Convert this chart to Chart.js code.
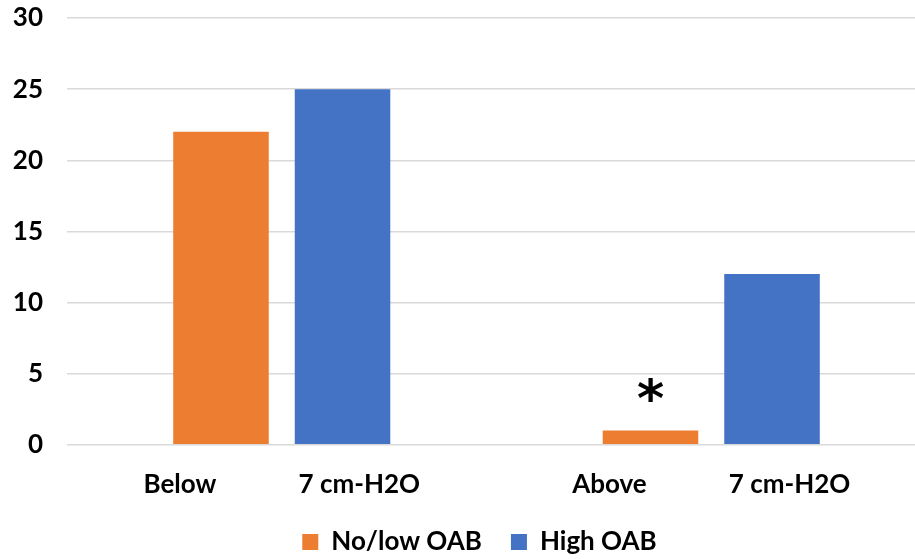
<!DOCTYPE html>
<html>
<head>
<meta charset="utf-8">
<script src="https://cdn.jsdelivr.net/npm/chart.js@4.4.1/dist/chart.umd.min.js"></script>
<style>
  html, body { margin: 0; padding: 0; background: #fff; overflow: hidden; }
  #wrap { width: 915px; height: 559px; position: relative; }
</style>
</head>
<body>
<div id="wrap"><canvas id="c" width="915" height="559"></canvas></div>
<script>
// Category labels: leading word and pressure threshold, shown on one line
const categoryLead = ["Below", "Above"];
const categoryTail = ["7 cm-H2O", "7 cm-H2O"];
const categories = categoryLead.map((w, i) => w + "             " + categoryTail[i]);

// Series values
const seriesNames = ["No/low OAB", "High OAB"];
const noLowOAB = [22, 1];
const highOAB = [25, 12];

// Y axis range and tick step
const yTicks = [0, 5, 10, 15, 20, 25, 30];

// Significance marker placed above a bar
const markerText = "*";
const markerDataset = 0;
const markerIndex = 1;

const FONT = "Lato, 'Open Sans', sans-serif";

// Plot area runs slightly past the right edge of the canvas
const PLOT_RIGHT = 926;
const LEGEND_SHIFT = 22;

const markerPlugin = {
  id: "sigMarker",
  afterDatasetsDraw(chart) {
    const meta = chart.getDatasetMeta(markerDataset);
    const bar = meta.data[markerIndex];
    if (!bar) return;
    const ctx = chart.ctx;
    ctx.save();
    ctx.font = "bold 52px 'DejaVu Sans', sans-serif";
    ctx.fillStyle = "#000";
    ctx.textAlign = "center";
    ctx.textBaseline = "alphabetic";
    const m = ctx.measureText(markerText);
    const h = m.actualBoundingBoxAscent + m.actualBoundingBoxDescent;
    const cy = bar.y - 41;
    ctx.fillText(markerText, bar.x, cy + h / 2 - m.actualBoundingBoxDescent);
    ctx.restore();
  }
};

// Widen the plot area to the right and nudge the legend block
const layoutTweak = {
  id: "layoutTweak",
  afterLayout(chart) {
    const area = chart.chartArea;
    area.right = PLOT_RIGHT;
    area.width = PLOT_RIGHT - area.left;
    const x = chart.scales.x;
    x.right = PLOT_RIGHT;
    x.width = PLOT_RIGHT - x.left;
    x.configure();
    if (chart.legend) {
      chart.legend.left += LEGEND_SHIFT;
      chart.legend.right += LEGEND_SHIFT;
    }
  }
};

new Chart(document.getElementById("c"), {
  type: "bar",
  data: {
    labels: categories,
    datasets: [
      { label: seriesNames[0], data: noLowOAB, backgroundColor: "#ED7D31" },
      { label: seriesNames[1], data: highOAB, backgroundColor: "#4472C4" }
    ]
  },
  options: {
    responsive: false,
    animation: false,
    layout: { autoPadding: false, padding: { top: 18, right: 0, left: 0, bottom: -6 } },
    datasets: {
      bar: { categoryPercentage: 0.566, barPercentage: 0.786 }
    },
    scales: {
      x: {
        grid: { display: false, drawTicks: false },
        border: { display: false },
        afterFit(scale) { scale.height = scale.height - 24; },
        ticks: {
          color: "#000",
          font: { family: FONT, size: 26, weight: "bold" },
          padding: 24,
          maxRotation: 0
        }
      },
      y: {
        min: yTicks[0],
        max: yTicks[yTicks.length - 1],
        afterBuildTicks(scale) { scale.ticks = yTicks.map(v => ({ value: v })); },
        afterFit(scale) {
          scale.width = 67;
          scale.paddingTop = 0;
          scale.paddingBottom = 0;
        },
        grid: { color: "#D9D9D9", lineWidth: 1.5, drawTicks: false },
        border: { display: false },
        ticks: {
          color: "#000",
          font: { family: FONT, size: 26, weight: "bold" },
          padding: 24
        }
      }
    },
    plugins: {
      legend: {
        position: "bottom",
        labels: {
          color: "#000",
          font: { family: FONT, size: 26, weight: "bold" },
          boxWidth: 16,
          boxHeight: 16,
          padding: 29
        }
      },
      tooltip: { enabled: false }
    }
  },
  plugins: [markerPlugin, layoutTweak]
});
</script>
</body>
</html>
